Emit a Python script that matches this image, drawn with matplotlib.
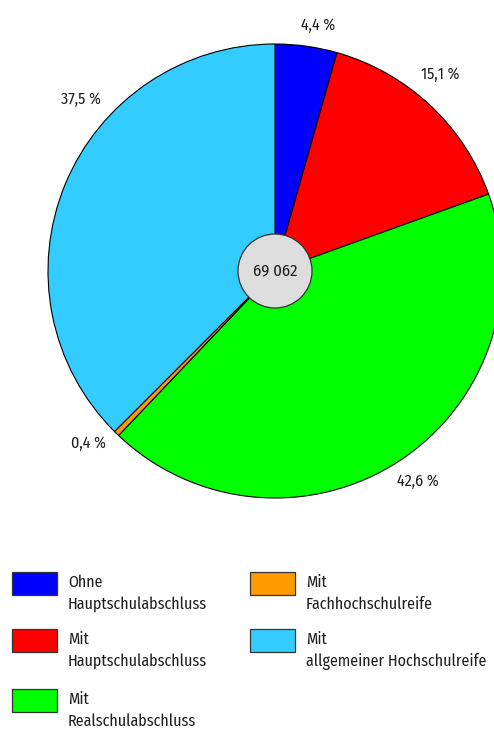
import matplotlib
matplotlib.use("Agg")
import matplotlib.pyplot as plt
from matplotlib.patches import Circle, Rectangle
import numpy as np

plt.rcParams['font.family'] = ['Fira Sans Condensed', 'DejaVu Sans']

# data
categories = ["Ohne\nHauptschulabschluss", "Mit\nHauptschulabschluss",
              "Mit\nRealschulabschluss", "Mit\nFachhochschulreife",
              "Mit\nallgemeiner Hochschulreife"]
shares = [4.4, 15.1, 42.6, 0.4, 37.5]
share_labels = ["4,4 %", "15,1 %", "42,6 %", "0,4 %", "37,5 %"]
colors = ["#0000ff", "#ff0000", "#00ff00", "#ff9900", "#33ccff"]
total_label = "69 062"

W, H = 494, 731
fig = plt.figure(figsize=(W / 100, H / 100), dpi=100)
ax = fig.add_axes([0, 0, 1, 1])

cx, cy, R = 275, H - 271, 227
wedges, _ = ax.pie(shares, colors=colors, startangle=90, counterclock=False,
                   center=(cx, cy), radius=R, frame=True,
                   wedgeprops=dict(edgecolor="black", linewidth=0.8))
ax.set_xlim(0, W)
ax.set_ylim(0, H)
ax.set_aspect('equal')
ax.axis('off')

txt = "#1e1e1e"

# percentage labels placed outside the wedges
label_r = [1.10, 1.13, 1.12, 1.12, 1.14]
angle_shift = [-2, 3, 1, -3, -19]
for w, lab, rr, da in zip(wedges, share_labels, label_r, angle_shift):
    ang = np.radians((w.theta1 + w.theta2) / 2 + da)
    ax.text(cx + rr * R * np.cos(ang), cy + rr * R * np.sin(ang), lab,
            ha="center", va="center", fontsize=11.5, color=txt)

# centre circle with total
ax.add_patch(Circle((cx, cy), 37, facecolor="#dddddd", edgecolor="#333333",
                    linewidth=0.9, zorder=5))
ax.text(cx, cy, total_label, ha="center", va="center", fontsize=12,
        color=txt, zorder=6)

# legend (two columns, filled column-wise)
col_x = [12, 250]
row_y = [572, 629, 689]
for i, (lab, c) in enumerate(zip(categories, colors)):
    col = 0 if i < 3 else 1
    row = i if i < 3 else i - 3
    x0 = col_x[col]
    y0 = row_y[row]
    ax.add_patch(Rectangle((x0, H - y0 - 23), 45, 23, facecolor=c,
                           edgecolor="#333333", linewidth=0.9))
    ax.text(x0 + 56, H - y0 - 2, lab, ha="left", va="top", fontsize=11.5,
            color=txt, linespacing=1.5)

fig.savefig("out.png", dpi=100)
